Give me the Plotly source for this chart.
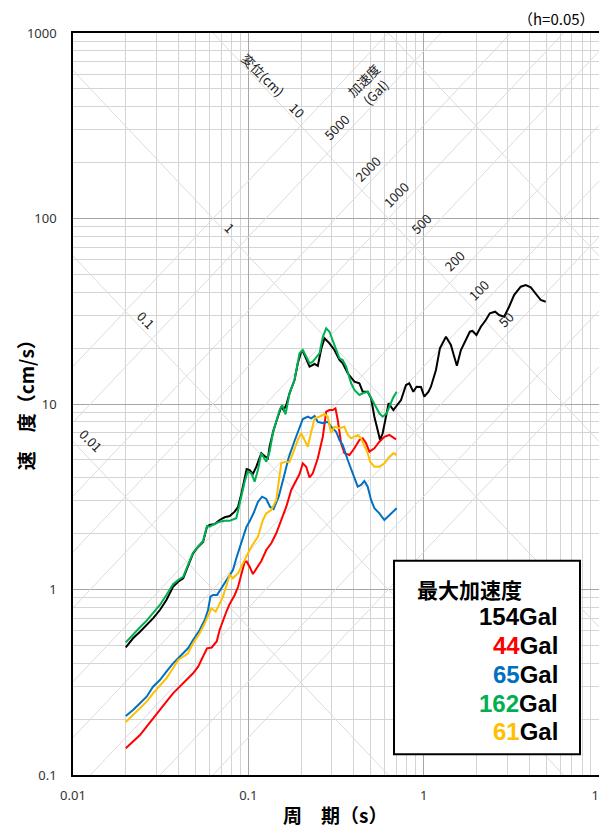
import math
import plotly.graph_objects as go

# 周期 T (s) と 速度応答 (cm/s)  h=0.05
t_154 = [0.0200, 0.0220, 0.0241, 0.0263, 0.0286, 0.0313, 0.0341, 0.0372, 0.0398, 0.0425,
         0.0453, 0.0484, 0.0517, 0.0552, 0.0581, 0.0602, 0.0643, 0.0686, 0.0733, 0.0783,
         0.0836, 0.0873, 0.0912, 0.0953, 0.0978, 0.1017, 0.1062, 0.1111, 0.1186, 0.1238,
         0.1293, 0.1322, 0.1393, 0.1474, 0.1541, 0.1588, 0.1646, 0.1718, 0.1834, 0.1915,
         0.2003, 0.2051, 0.2138, 0.2234, 0.2385, 0.2490, 0.2604, 0.2719, 0.2902, 0.3098,
         0.3309, 0.3454, 0.3689, 0.4027, 0.4300, 0.4491, 0.4795, 0.5013, 0.5235, 0.5466,
         0.5642, 0.5838, 0.6047, 0.6314, 0.6714, 0.7101, 0.7428, 0.7929, 0.8282, 0.8727,
         0.9112, 0.9652, 1.008, 1.066, 1.100, 1.175, 1.238, 1.340, 1.430, 1.494,
         1.547, 1.631, 1.741, 1.834, 1.898, 2.000, 2.119, 2.262, 2.384, 2.556,
         2.694, 2.876, 3.071, 3.278, 3.580, 3.822, 4.080, 4.358, 4.652, 4.968]
v_154 = [0.488, 0.546, 0.592, 0.644, 0.699, 0.775, 0.878, 1.035, 1.101, 1.149,
         1.327, 1.567, 1.701, 1.810, 2.181, 2.227, 2.255, 2.370, 2.451, 2.490,
         2.627, 2.785, 3.272, 3.893, 4.464, 4.408, 4.194, 4.592, 5.424, 5.245,
         5.097, 5.886, 7.24, 8.54, 9.67, 9.28, 9.88, 11.42, 13.47, 16.57,
         19.14, 19.14, 17.48, 15.89, 16.43, 16.03, 19.79, 22.6, 21.24, 19.55,
         17.27, 16.57, 14.64, 13.19, 12.93, 11.65, 11.65, 10.73, 8.54, 7.24,
         6.40, 6.95, 8.20, 10.09, 9.28, 9.88, 10.51, 12.66, 12.93, 11.65,
         12.40, 12.35, 10.95, 11.65, 12.40, 15.25, 19.97, 23.06, 20.80, 17.99,
         16.09, 19.55, 22.13, 24.53, 24.75, 23.55, 26.11, 28.37, 30.83, 31.45,
         30.19, 29.55, 33.45, 38.68, 42.89, 43.81, 42.57, 39.53, 36.36, 35.60]

t_44 = [0.0200, 0.0220, 0.0241, 0.0263, 0.0286, 0.0313, 0.0341, 0.0372, 0.0406, 0.0444,
        0.0484, 0.0517, 0.0552, 0.0581, 0.0618, 0.0660, 0.0686, 0.0714, 0.0750, 0.0783,
        0.0836, 0.0873, 0.0912, 0.0953, 0.0978, 0.1017, 0.1062, 0.1111, 0.1186, 0.1266,
        0.1352, 0.1443, 0.1541, 0.1646, 0.1757, 0.1876, 0.1959, 0.2046, 0.2138, 0.2234,
        0.2332, 0.2490, 0.2659, 0.2780, 0.2902, 0.3030, 0.3140, 0.3236, 0.3382, 0.3532,
        0.3772, 0.4027, 0.4300, 0.4491, 0.4695, 0.4902, 0.5235, 0.5589, 0.5968, 0.6373,
        0.6653, 0.6956]
v_44 = [0.1393, 0.1512, 0.1643, 0.1822, 0.2022, 0.224, 0.2485, 0.2757, 0.2992, 0.3252,
        0.3533, 0.3836, 0.4342, 0.482, 0.487, 0.5245, 0.605, 0.677, 0.761, 0.836,
        0.934, 1.031, 1.212, 1.407, 1.416, 1.327, 1.212, 1.301, 1.424, 1.633,
        1.775, 2.009, 2.370, 2.796, 3.439, 3.893, 4.194, 4.79, 4.592, 4.016,
        4.231, 5.097, 6.66, 9.09, 9.28, 9.28, 9.48, 8.20, 6.14, 5.424,
        5.31, 5.77, 6.40, 6.53, 6.14, 5.534, 5.77, 6.26, 6.66, 6.81,
        6.66, 6.45]

t_65 = [0.0200, 0.0220, 0.0241, 0.0263, 0.0286, 0.0313, 0.0341, 0.0372, 0.0398, 0.0425,
        0.0453, 0.0484, 0.0528, 0.0564, 0.0589, 0.0608, 0.0629, 0.0663, 0.0702, 0.0750,
        0.0817, 0.0854, 0.0925, 0.0974, 0.1017, 0.1072, 0.1134, 0.1198, 0.1266, 0.1331,
        0.1393, 0.1488, 0.1588, 0.1696, 0.1834, 0.1959, 0.2046, 0.2184, 0.2284, 0.2385,
        0.2490, 0.2659, 0.2839, 0.2968, 0.3168, 0.3309, 0.3454, 0.3689, 0.3938, 0.4205,
        0.4396, 0.4591, 0.4795, 0.5013, 0.5235, 0.5589, 0.5968, 0.6231, 0.6653, 0.7012]
v_65 = [0.208, 0.224, 0.2435, 0.2643, 0.2992, 0.3252, 0.3605, 0.4001, 0.4256, 0.453,
        0.482, 0.534, 0.605, 0.685, 0.775, 0.915, 0.934, 0.934, 1.015, 1.125,
        1.274, 1.473, 1.849, 2.17, 2.33, 2.585, 2.963, 3.164, 3.076, 2.785,
        2.716, 3.152, 3.991, 5.116, 6.32, 7.52, 8.30, 8.54, 8.37, 8.62,
        8.00, 7.87, 8.03, 7.54, 7.09, 6.40, 6.01, 4.99, 4.231, 3.583,
        3.66, 3.846, 3.583, 3.038, 2.741, 2.575, 2.370, 2.469, 2.627, 2.741]

t_162 = [0.0200, 0.0220, 0.0241, 0.0263, 0.0286, 0.0313, 0.0341, 0.0372, 0.0398, 0.0425,
         0.0453, 0.0484, 0.0517, 0.0552, 0.0581, 0.0602, 0.0643, 0.0686, 0.0733, 0.0783,
         0.0854, 0.0884, 0.0912, 0.0953, 0.0991, 0.1040, 0.1086, 0.1134, 0.1186, 0.1238,
         0.1266, 0.1322, 0.1380, 0.1507, 0.1561, 0.1631, 0.1718, 0.1834, 0.1959, 0.2046,
         0.2138, 0.2234, 0.2332, 0.2438, 0.2546, 0.2659, 0.2780, 0.2902, 0.3030, 0.3168,
         0.3309, 0.3454, 0.3613, 0.3858, 0.4027, 0.4300, 0.4491, 0.4795, 0.5013, 0.5352,
         0.5589, 0.5838, 0.6150, 0.6432, 0.6714, 0.7012]
v_162 = [0.519, 0.575, 0.626, 0.679, 0.744, 0.825, 0.934, 1.067, 1.125, 1.172,
         1.356, 1.579, 1.701, 1.826, 2.200, 2.181, 2.255, 2.320, 2.349, 2.349,
         2.420, 2.796, 3.301, 3.812, 4.327, 4.231, 3.812, 4.408, 5.424, 5.097,
         4.887, 5.534, 6.95, 9.28, 9.88, 8.80, 11.42, 13.47, 18.76, 19.55,
         17.81, 16.57, 16.90, 17.70, 18.76, 22.97, 25.59, 24.53, 22.13, 19.55,
         17.64, 17.27, 15.89, 12.93, 11.90, 11.18, 11.42, 11.65, 10.73, 9.67,
         8.91, 8.54, 8.91, 9.88, 10.87, 11.65]

t_61 = [0.0200, 0.0220, 0.0241, 0.0263, 0.0286, 0.0313, 0.0341, 0.0372, 0.0398, 0.0425,
        0.0453, 0.0484, 0.0528, 0.0564, 0.0616, 0.0651, 0.0717, 0.0783, 0.0817, 0.0873,
        0.0953, 0.1040, 0.1134, 0.1211, 0.1266, 0.1352, 0.1443, 0.1541, 0.1631, 0.1718,
        0.1811, 0.1915, 0.2003, 0.2091, 0.2184, 0.2284, 0.2385, 0.2546, 0.2719, 0.2839,
        0.2968, 0.3098, 0.3309, 0.3532, 0.3689, 0.3858, 0.4027, 0.4205, 0.4396, 0.4591,
        0.4795, 0.4948, 0.5235, 0.5589, 0.5968, 0.6373, 0.6714, 0.7012]
v_61 = [0.193, 0.2107, 0.2288, 0.2485, 0.2757, 0.3056, 0.3322, 0.3759, 0.4168, 0.4342,
        0.453, 0.513, 0.581, 0.657, 0.792, 0.759, 0.915, 1.197, 1.149, 1.223,
        1.442, 1.701, 1.925, 2.370, 2.575, 2.683, 3.038, 4.79, 4.887, 4.868,
        5.534, 6.40, 6.95, 6.40, 5.886, 7.06, 8.37, 8.54, 8.83, 8.54,
        6.95, 7.54, 7.40, 7.54, 6.81, 6.53, 6.66, 6.81, 6.53, 6.01,
        5.424, 4.887, 4.592, 4.592, 4.79, 5.20, 5.424, 5.31]

# 三軸図の斜線 (変位 cm, 加速度 Gal)
disp_cm = [0.01, 0.1, 1, 10, 100]
acc_gal = [10, 20, 50, 100, 200, 500, 1000, 2000, 5000, 10000]

series = [
    (t_154, v_154, "#000000", "154"),
    (t_44, v_44, "#FF0000", "44"),
    (t_65, v_65, "#0070C0", "65"),
    (t_162, v_162, "#00B050", "162"),
    (t_61, v_61, "#FFC000", "61"),
]

fig = go.Figure()

# diagonal guide lines
gx, gy = [], []
for d in disp_cm:
    for t in [0.01, 10]:
        gx.append(t)
        gy.append(2 * math.pi * d / t)
    gx.append(None)
    gy.append(None)
for a in acc_gal:
    for t in [0.01, 10]:
        gx.append(t)
        gy.append(a * t / (2 * math.pi))
    gx.append(None)
    gy.append(None)

fig.add_trace(go.Scatter(x=gx, y=gy, mode="lines",
                         line=dict(color="#dcdcdc", width=1),
                         hoverinfo="skip", showlegend=False))

for t, v, c, name in series:
    fig.add_trace(go.Scatter(x=t, y=v, mode="lines", name=name + "Gal",
                             line=dict(color=c, width=2), showlegend=False))

minor_x = [m * 10 ** e for e in range(-2, 1) for m in range(2, 10)]
minor_y = [m * 10 ** e for e in range(-1, 3) for m in range(2, 10)]

fig.update_xaxes(
    type="log", range=[-2, 1], automargin=False,
    tickvals=[0.01, 0.1, 1, 10], ticktext=["0.01", "0.1", "1", "10"],
    ticks="outside", ticklen=8, tickcolor="rgba(0,0,0,0)",
    showgrid=True, gridcolor="#a6a6a6", gridwidth=1,
    minor=dict(tickvals=minor_x, showgrid=True, gridcolor="#d4d4d4", ticks=""),
    showline=True, mirror=True, linecolor="black", linewidth=1.5,
    tickfont=dict(family="Noto Sans", size=13, color="#333333"),
    zeroline=False,
)
fig.update_yaxes(
    type="log", range=[-1, 3], automargin=False,
    tickvals=[0.1, 1, 10, 100, 1000], ticktext=["0.1", "1", "10", "100", "1000"],
    ticks="outside", ticklen=12, tickcolor="rgba(0,0,0,0)",
    showgrid=True, gridcolor="#a6a6a6", gridwidth=1,
    minor=dict(tickvals=minor_y, showgrid=True, gridcolor="#d4d4d4", ticks=""),
    showline=True, mirror=True, linecolor="black", linewidth=1.5,
    tickfont=dict(family="Noto Sans", size=13, color="#333333"),
    zeroline=False,
)

lab_font = dict(family="Noto Sans CJK JP", size=13, color="#222222")
ann = []
disp_labels = [("変位(cm)", 0.1206, 593.8), ("10", 0.1883, 384.6), ("1", 0.0783, 88.9),
               ("0.1", 0.0260, 28.4), ("0.01", 0.01266, 6.32)]
acc_labels = [("加速度<br>(Gal)", 0.4934, 518), ("5000", 0.3201, 313.3), ("2000", 0.4794, 186.5),
              ("1000", 0.6956, 133.9), ("500", 0.9652, 94.2), ("200", 1.494, 59.7),
              ("100", 2.073, 41.2), ("50", 2.940, 28.4)]
for txt, t, v in disp_labels:
    ann.append(dict(x=math.log10(t), y=math.log10(v), xref="x", yref="y", text=txt,
                    textangle=45, showarrow=False, font=lab_font))
for txt, t, v in acc_labels:
    ann.append(dict(x=math.log10(t), y=math.log10(v), xref="x", yref="y", text=txt,
                    textangle=-45, showarrow=False, font=lab_font))

# axis titles and note
ann.append(dict(x=0.498, y=-0.0539, xref="paper", yref="paper", text="<b>周　期（s）</b>",
                xanchor="center", yanchor="middle", showarrow=False,
                font=dict(family="Noto Sans CJK JP", size=19, color="black")))
ann.append(dict(x=-0.0913, y=0.505, xref="paper", yref="paper", text="<b>速　度（cm/s）</b>",
                xanchor="center", yanchor="middle", textangle=-90, showarrow=False,
                font=dict(family="Noto Sans CJK JP", size=19, color="black")))
ann.append(dict(x=0.996, y=1.0189, xref="paper", yref="paper", text="（h=0.05）",
                xanchor="right", yanchor="middle", showarrow=False,
                font=dict(family="Noto Sans CJK JP", size=15, color="black")))

# legend box
ann.append(dict(x=0.6502, y=0.2503, xref="paper", yref="paper", text="<b>最大加速度</b>",
                xanchor="left", yanchor="middle", showarrow=False,
                font=dict(family="Noto Sans CJK JP", size=21, color="black")))
row_y = [0.2133, 0.1739, 0.1357, 0.0966, 0.0584]
for (t, v, c, name), yy in zip(series, row_y):
    ann.append(dict(x=0.9259, y=yy, xref="paper", yref="paper",
                    text="<b><span style='color:%s'>%s</span>Gal</b>" % (c, name),
                    xanchor="right", yanchor="middle", showarrow=False,
                    font=dict(family="Liberation Sans", size=24, color="black")))

# the page adds an 8px body margin, so the figure is made 8px smaller and shifted back
fig.update_layout(
    width=599, height=821,
    margin=dict(l=65, r=8, t=25, b=54),
    plot_bgcolor="white", paper_bgcolor="white",
    annotations=ann,
    shapes=[dict(type="rect", xref="paper", yref="paper", x0=0.6103, x1=0.9639,
                 y0=0.0279, y1=0.2888, line=dict(color="black", width=2),
                 fillcolor="white", layer="above")],
)

fig.write_html("out.html")
